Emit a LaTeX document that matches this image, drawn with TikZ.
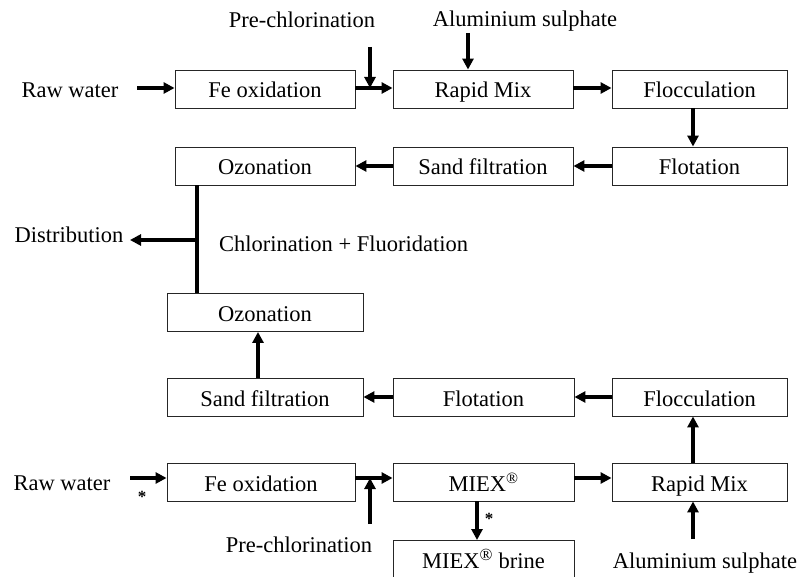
\documentclass[tikz,border=0pt]{standalone}
\usepackage{fontspec}
\setmainfont{Liberation Serif}
\usetikzlibrary{arrows.meta}
\tikzset{
  box/.style={draw=black!85, line width=0.9pt, minimum height=38pt, inner sep=0pt, text height=20pt, text depth=2pt, font=\fontsize{22.5}{26}\selectfont},
  lbl/.style={inner sep=0pt, text height=20pt, text depth=2pt, font=\fontsize{22.5}{26}\selectfont},
  arr/.style={line width=3.4pt, -{Triangle[length=11pt,width=11pt]}},
  ln/.style={line width=3.4pt},
  star/.style={inner sep=0pt, font=\fontsize{17}{18}\selectfont\bfseries}
}
\begin{document}
\begin{tikzpicture}[x=1pt,y=-1pt]
\clip (0,0) rectangle (800,577);
\fill[white] (0,0) rectangle (800,577);
% top train
\node[box, minimum width=180pt] (fe1) at (265,89) {Fe oxidation};
\node[box, minimum width=180pt] (rm1) at (483,89) {Rapid Mix};
\node[box, minimum width=175pt] (fl1) at (699.5,89) {Flocculation};
\node[box, minimum width=175pt] (ft1) at (699.5,166) {Flotation};
\node[box, minimum width=180pt] (sf1) at (483,166) {Sand filtration};
\node[box, minimum width=180pt] (oz1) at (265,166) {Ozonation};
\node[lbl] (raw1) at (70,89) {Raw water};
\node[lbl] (pc1) at (302,19) {Pre-chlorination};
\node[lbl] (al1) at (525,18) {Aluminium sulphate};
\coordinate (raw1a) at (137,88);
\coordinate (pc1a) at (370,47);
\coordinate (al1a) at (468,33);
\draw[arr] (raw1a) -- (fe1.west |- raw1a);
\draw[arr] (fe1.east |- raw1a) -- (rm1.west |- raw1a);
\draw[arr] (pc1a) -- (pc1a |- raw1a);
\draw[arr] (al1a) -- (al1a |- rm1.north);
\draw[arr] (rm1.east |- raw1a) -- (fl1.west |- raw1a);
\draw[arr] (fl1.south -| 693,0) -- (ft1.north -| 693,0);
\draw[arr] (ft1.west) -- (sf1.east);
\draw[arr] (sf1.west) -- (oz1.east);
% middle
\node[lbl] (dist) at (69,234) {Distribution};
\node[lbl, anchor=west] (chl) at (219,243) {Chlorination + Fluoridation};
\node[box, minimum width=196pt] (oz2) at (265,312.5) {Ozonation};
\coordinate (jd) at (197,240);
\coordinate (da) at (130,240);
\draw[ln] (oz1.south -| jd) -- (oz2.north -| jd);
\draw[arr] (jd) -- (da);
% lower train
\node[box, minimum width=196pt] (sf2) at (265,397) {Sand filtration};
\node[box, minimum width=181pt] (ft2) at (483.5,397) {Flotation};
\node[box, minimum width=175pt] (fl2) at (699.5,397) {Flocculation};
\node[box, minimum width=188pt] (fe2) at (261,482) {Fe oxidation};
\node[box, minimum width=181pt] (mx) at (483.5,482) {MIEX\textsuperscript{\textregistered}};
\node[box, minimum width=175pt] (rm2) at (699.5,482) {Rapid Mix};
\node[box, minimum width=181pt, minimum height=50pt, anchor=north] (br) at (483.5,540) {};
\node[lbl] (brt) at (483.5,559) {MIEX\textsuperscript{\fontsize{17}{17}\selectfont\textregistered} brine};
\node[lbl] (raw2) at (62,481) {Raw water};
\node[lbl] (pc2) at (299,543) {Pre-chlorination};
\node[lbl] (al2) at (705,559) {Aluminium sulphate};
\coordinate (raw2a) at (130,478);
\coordinate (pc2a) at (370,524);
\coordinate (al2a) at (693,539);
\draw[arr] (fl2.west) -- (ft2.east);
\draw[arr] (ft2.west) -- (sf2.east);
\draw[arr] (sf2.north -| 258,0) -- (oz2.south -| 258,0);
\draw[arr] (raw2a) -- (fe2.west |- raw2a);
\draw[arr] (fe2.east |- raw2a) -- (mx.west |- raw2a);
\draw[arr] (pc2a) -- (pc2a |- raw2a);
\draw[arr] (mx.east |- raw2a) -- (rm2.west |- raw2a);
\draw[arr] (rm2.north -| 693,0) -- (fl2.south -| 693,0);
\draw[arr] (al2a) -- (al2a |- rm2.south);
\draw[arr] (mx.south -| 477,0) -- (br.north -| 477,0);
\node[star] (s1) at (142,497) {*};
\node[star] (s2) at (489,519) {*};
\end{tikzpicture}
\end{document}
